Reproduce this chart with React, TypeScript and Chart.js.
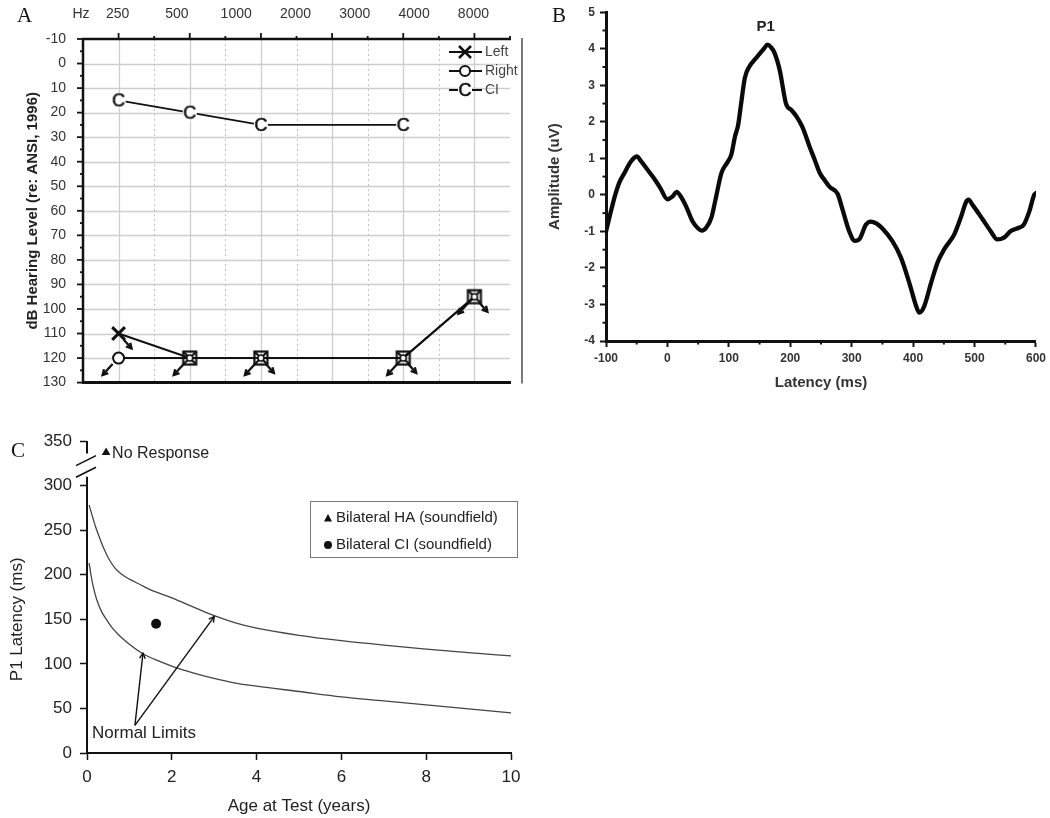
import React, { useEffect, useRef } from 'react';
import { Chart, registerables } from 'chart.js';
Chart.register(...registerables);

const FONT = '"Liberation Sans", Arial, Helvetica, sans-serif';
const SERIF = '"Liberation Serif", "Times New Roman", serif';

// ---------- Panel A: audiogram ----------
const freqLabels = ['250', '500', '1000', '2000', '3000', '4000', '8000'];
const ciFreqPos = [0, 1, 2, 4];
const ciThresholds = [15, 20, 25, 25];
const earFreqPos = [0, 1, 2, 4, 5];
const leftThresholds = [110, 120, 120, 120, 95];
const rightThresholds = [120, 120, 120, 120, 95];
const leftNoResponse = [true, false, true, true, true];
const rightNoResponse = [true, true, true, true, true];
const audioLegend = ['Left', 'Right', 'CI'];

// ---------- Panel B: waveform ----------
const latencyMs = [-100, -92, -85, -78, -70, -60, -50, -42, -33, -24, -12, 0, 8, 15, 22, 30, 41, 50, 56, 63, 72, 78, 88, 98, 104, 110, 115, 120, 126, 134, 142, 150, 157, 163, 168, 174, 183, 193, 202, 210, 220, 231, 240, 248, 256, 264, 277, 285, 296, 305, 313, 323, 331, 340, 350, 366, 380, 394, 405, 410, 418, 429, 440, 451, 467, 478, 486, 490, 497, 512, 526, 537, 548, 559, 572, 580, 589, 597, 600];
const amplitudeUv = [-1.0, -0.45, 0.0, 0.35, 0.6, 0.9, 1.05, 0.9, 0.7, 0.5, 0.2, -0.12, -0.05, 0.08, -0.05, -0.3, -0.73, -0.92, -0.98, -0.9, -0.6, -0.15, 0.6, 0.9, 1.1, 1.6, 1.9, 2.5, 3.2, 3.53, 3.7, 3.86, 4.0, 4.11, 4.05, 3.9, 3.4, 2.5, 2.32, 2.15, 1.85, 1.34, 0.95, 0.6, 0.4, 0.22, 0.03, -0.4, -1.0, -1.26, -1.2, -0.82, -0.73, -0.78, -0.92, -1.26, -1.71, -2.42, -3.05, -3.22, -3.05, -2.42, -1.84, -1.48, -1.08, -0.6, -0.2, -0.13, -0.28, -0.64, -0.99, -1.22, -1.17, -0.99, -0.9, -0.82, -0.46, 0.0, 0.05];
const peakLabel = 'P1';

// ---------- Panel C: P1 latency vs age ----------
const upperAge = [0.05, 0.1, 0.2, 0.3, 0.4, 0.5, 0.65, 0.8, 1.0, 1.25, 1.5, 2.0, 2.5, 3.0, 3.5, 4.0, 5.0, 6.0, 7.0, 8.0, 9.0, 10.0];
const upperLatency = [278, 270, 254, 241, 229, 219, 208, 201, 195, 189, 183, 174, 164, 154, 146, 140, 132, 126, 121, 116.5, 112.5, 109];
const lowerAge = [0.05, 0.1, 0.15, 0.23, 0.35, 0.47, 0.6, 0.78, 1.0, 1.33, 1.7, 2.03, 2.5, 2.97, 3.5, 4.0, 5.0, 6.0, 7.0, 8.0, 9.0, 10.0];
const lowerLatency = [213, 198, 186, 172, 158, 149, 140, 131, 122, 111, 103, 97, 90, 84, 78.5, 75, 69, 63, 58.5, 54, 49.5, 45];
const haAge = [0.45];
const haLatency = [337];
const ciAge = [1.63];
const ciLatency = [145];
const haLabel = 'Bilateral HA (soundfield)';
const ciLabel = 'Bilateral CI (soundfield)';
const noResponseText = 'No Response';
const normalLimitsText = 'Normal Limits';
const normalLimitsAnchor = { x: 0.12, y: 22 };
const normalArrowFrom = { x: 1.13, y: 31 };
const normalArrowTips = [{ x: 1.32, y: 112 }, { x: 3.0, y: 153 }];

function makeCanvas(w: number, h: number, draw: (ctx: CanvasRenderingContext2D) => void) {
  const c = document.createElement('canvas');
  c.width = w;
  c.height = h;
  draw(c.getContext('2d')!);
  return c;
}

function line(ctx: CanvasRenderingContext2D, x1: number, y1: number, x2: number, y2: number) {
  ctx.beginPath();
  ctx.moveTo(x1, y1);
  ctx.lineTo(x2, y2);
  ctx.stroke();
}

function arrow(ctx: CanvasRenderingContext2D, x1: number, y1: number, x2: number, y2: number, head: number) {
  line(ctx, x1, y1, x2, y2);
  const a = Math.atan2(y2 - y1, x2 - x1);
  ctx.beginPath();
  ctx.moveTo(x2 - head * Math.cos(a - 0.5), y2 - head * Math.sin(a - 0.5));
  ctx.lineTo(x2, y2);
  ctx.lineTo(x2 - head * Math.cos(a + 0.5), y2 - head * Math.sin(a + 0.5));
  ctx.stroke();
}

const cSymbol = makeCanvas(20, 20, (ctx) => {
  ctx.fillStyle = '#fff';
  ctx.fillRect(3, 2, 14, 16);
  ctx.fillStyle = '#111';
  ctx.strokeStyle = '#111';
  ctx.lineWidth = 0.5;
  ctx.font = `18px ${FONT}`;
  ctx.textAlign = 'center';
  ctx.textBaseline = 'middle';
  ctx.fillText('C', 10, 11);
  ctx.strokeText('C', 10, 11);
});

const boxSymbol = makeCanvas(18, 18, (ctx) => {
  ctx.strokeStyle = '#111';
  ctx.lineWidth = 2.2;
  ctx.strokeRect(2.5, 2.5, 13, 13);
  line(ctx, 2.5, 2.5, 15.5, 15.5);
  line(ctx, 15.5, 2.5, 2.5, 15.5);
  ctx.beginPath();
  ctx.arc(9, 9, 3, 0, Math.PI * 2);
  ctx.fillStyle = '#fff';
  ctx.fill();
  ctx.lineWidth = 1.6;
  ctx.stroke();
});

function ChartBox({ left, top, width, height, make }: { left: number; top: number; width: number; height: number; make: () => any }) {
  const ref = useRef<HTMLCanvasElement>(null);
  useEffect(() => {
    const chart = new Chart(ref.current!, make());
    return () => chart.destroy();
  }, []);
  return <canvas ref={ref} width={width} height={height} style={{ position: 'absolute', left, top, width, height }} />;
}

// ---------------- Panel A ----------------
function makeA() {
  const plugin = {
    id: 'panelA',
    beforeDatasetsDraw(chart: any) {
      const { ctx, chartArea: a, scales } = chart;
      const x = scales.x, y = scales.y;
      ctx.save();
      ctx.strokeStyle = '#cdcdcd';
      ctx.lineWidth = 1.3;
      for (let v = 0; v <= 120; v += 10) {
        const py = Math.round(y.getPixelForValue(v)) + 0.5;
        line(ctx, a.left, py, a.right, py);
      }
      for (let i = 0; i <= 5; i++) {
        const px = Math.round(x.getPixelForValue(i)) + 0.5;
        line(ctx, px, a.top, px, a.bottom);
      }
      ctx.strokeStyle = '#c4c4c4';
      ctx.lineWidth = 1;
      ctx.setLineDash([2, 3]);
      for (let i = 0; i < 5; i++) {
        const px = Math.round(x.getPixelForValue(i + 0.5)) + 0.5;
        line(ctx, px, a.top, px, a.bottom);
      }
      ctx.setLineDash([]);
      ctx.restore();
    },
    afterDatasetsDraw(chart: any) {
      const { ctx, chartArea: a, scales } = chart;
      const x = scales.x, y = scales.y;
      ctx.save();
      // no-response arrows
      ctx.strokeStyle = '#111';
      ctx.lineWidth = 2.3;
      earFreqPos.forEach((f, i) => {
        if (leftNoResponse[i]) {
          const px = x.getPixelForValue(f), py = y.getPixelForValue(leftThresholds[i]);
          arrow(ctx, px + 5, py + 6, px + 13, py + 15, 6);
        }
        if (rightNoResponse[i]) {
          const px = x.getPixelForValue(f), py = y.getPixelForValue(rightThresholds[i]);
          arrow(ctx, px - 6, py + 6, px - 16, py + 17, 6);
        }
      });
      // axes
      ctx.strokeStyle = '#111';
      ctx.lineWidth = 2.5;
      line(ctx, a.left - 1, a.top, a.right + 1, a.top);
      line(ctx, a.left, a.top - 1, a.left, a.bottom + 1);
      ctx.lineWidth = 3;
      line(ctx, a.left - 1, a.bottom, a.right + 1, a.bottom);
      ctx.lineWidth = 1.8;
      for (let i = 0; i <= 5; i++) {
        const px = x.getPixelForValue(i);
        line(ctx, px, a.top, px, a.top - 6);
      }
      for (let i = 0; i <= 5; i++) {
        const px = x.getPixelForValue(i + 0.5);
        line(ctx, px, a.top, px, a.top - 3);
      }
      for (let v = -10; v <= 130; v += 5) {
        const py = y.getPixelForValue(v);
        line(ctx, a.left, py, a.left - (v % 10 === 0 ? 6 : 3), py);
      }
      // top frequency labels
      ctx.fillStyle = '#333';
      ctx.font = `14px ${FONT}`;
      ctx.textAlign = 'center';
      ctx.textBaseline = 'middle';
      ctx.fillText('Hz', a.left - 2, 14);
      freqLabels.forEach((lab, i) => {
        ctx.fillText(lab, x.getPixelForValue((i * 5) / (freqLabels.length - 1)) - 1, 14);
      });
      // legend
      const ly = [52, 71, 90];
      audioLegend.forEach((lab, i) => {
        const yy = ly[i];
        ctx.strokeStyle = '#111';
        ctx.lineWidth = 2;
        line(ctx, 449, yy, 482, yy);
        if (i === 0) {
          ctx.lineWidth = 2.5;
          line(ctx, 459, yy - 6, 471, yy + 6);
          line(ctx, 471, yy - 6, 459, yy + 6);
        } else if (i === 1) {
          ctx.beginPath();
          ctx.arc(465, yy, 5, 0, Math.PI * 2);
          ctx.fillStyle = '#fff';
          ctx.fill();
          ctx.lineWidth = 2;
          ctx.stroke();
        } else {
          ctx.drawImage(cSymbol, 465 - 10, yy - 10);
        }
        ctx.fillStyle = '#444';
        ctx.font = `14px ${FONT}`;
        ctx.textAlign = 'left';
        ctx.fillText(lab, 485, yy);
      });
      // right border line
      ctx.strokeStyle = '#7a7a7a';
      ctx.lineWidth = 2;
      line(ctx, 522, a.top - 1, 522, a.bottom + 1);
      // panel letter
      ctx.fillStyle = '#111';
      ctx.font = `21px ${SERIF}`;
      ctx.textAlign = 'left';
      ctx.textBaseline = 'alphabetic';
      ctx.fillText('A', 17, 22);
      ctx.restore();
    },
  };
  return {
    type: 'line',
    data: {
      datasets: [
        {
          label: 'CI',
          data: ciFreqPos.map((f, i) => ({ x: f, y: ciThresholds[i] })),
          borderColor: '#111',
          borderWidth: 1.6,
          pointStyle: cSymbol,
          pointRadius: 9,
          showLine: true,
        },
        {
          label: 'Left',
          data: earFreqPos.map((f, i) => ({ x: f, y: leftThresholds[i] })),
          borderColor: '#111',
          borderWidth: 2,
          pointStyle: earFreqPos.map((_, i) => (i === 0 ? 'crossRot' : boxSymbol)),
          pointRadius: 9,
          pointBorderWidth: 3,
          pointBorderColor: '#111',
          showLine: true,
        },
        {
          label: 'Right',
          data: earFreqPos.map((f, i) => ({ x: f, y: rightThresholds[i] })),
          borderColor: '#111',
          borderWidth: 2,
          pointStyle: 'circle',
          pointRadius: earFreqPos.map((_, i) => (i === 0 ? 5.5 : 0)),
          pointBackgroundColor: '#fff',
          pointBorderColor: '#111',
          pointBorderWidth: 2,
          showLine: true,
        },
      ],
    },
    options: {
      responsive: false,
      animation: false,
      devicePixelRatio: 1,
      clip: false,
      layout: { padding: { top: 39, right: 20, bottom: 15, left: 0 } },
      plugins: { legend: { display: false }, tooltip: { enabled: false } },
      scales: {
        x: { type: 'linear', min: -0.5, max: 5.5, display: false },
        y: {
          type: 'linear',
          reverse: true,
          min: -10,
          max: 130,
          afterFit: (s: any) => { s.width = 83; },
          ticks: { stepSize: 10, color: '#333', font: { family: FONT, size: 14 }, padding: 9 },
          grid: { display: false },
          border: { display: false },
          title: {
            display: true,
            text: 'dB Hearing Level (re: ANSI, 1996)',
            color: '#222',
            font: { family: FONT, size: 15, weight: 'bold' },
            padding: { top: 24, bottom: 0 },
          },
        },
      },
    },
    plugins: [plugin],
  };
}

// ---------------- Panel B ----------------
function makeB() {
  const plugin = {
    id: 'panelB',
    afterDatasetsDraw(chart: any) {
      const { ctx, chartArea: a, scales } = chart;
      const x = scales.x, y = scales.y;
      ctx.save();
      ctx.strokeStyle = '#111';
      ctx.lineWidth = 2;
      for (let v = -50; v < 600; v += 100) {
        const px = x.getPixelForValue(v);
        line(ctx, px, a.bottom, px, a.bottom + 3.5);
      }
      for (let v = -3.5; v < 5; v += 1) {
        const py = y.getPixelForValue(v);
        line(ctx, a.left, py, a.left - 3.5, py);
      }
      // peak label
      let mi = 0;
      amplitudeUv.forEach((v, i) => { if (v > amplitudeUv[mi]) mi = i; });
      ctx.fillStyle = '#222';
      ctx.font = `bold 15px ${FONT}`;
      ctx.textAlign = 'center';
      ctx.textBaseline = 'middle';
      ctx.fillText(peakLabel, x.getPixelForValue(latencyMs[mi]) - 2, y.getPixelForValue(amplitudeUv[mi]) - 18);
      ctx.fillStyle = '#111';
      ctx.font = `21px ${SERIF}`;
      ctx.textAlign = 'left';
      ctx.textBaseline = 'alphabetic';
      ctx.fillText('B', 12, 22);
      ctx.restore();
    },
  };
  const tickFont = { family: FONT, size: 12, weight: 'bold' };
  return {
    type: 'line',
    data: {
      datasets: [
        {
          label: 'Amplitude',
          data: latencyMs.map((t, i) => ({ x: t, y: amplitudeUv[i] })),
          borderColor: '#0a0a0a',
          borderWidth: 4.3,
          pointRadius: 0,
          cubicInterpolationMode: 'monotone',
          borderCapStyle: 'round',
          borderJoinStyle: 'round',
        },
      ],
    },
    options: {
      responsive: false,
      animation: false,
      devicePixelRatio: 1,
      layout: { padding: { top: 7, right: 13, bottom: 0, left: 0 } },
      plugins: { legend: { display: false }, tooltip: { enabled: false } },
      scales: {
        x: {
          type: 'linear',
          min: -100,
          max: 600,
          afterFit: (s: any) => { s.height = 59; },
          ticks: { stepSize: 100, color: '#333', font: tickFont, padding: 4 },
          grid: { drawOnChartArea: false, tickLength: 6, tickWidth: 2, tickColor: '#111' },
          border: { color: '#111', width: 3 },
          title: { display: true, text: 'Latency (ms)', color: '#333', font: { family: FONT, size: 15, weight: 'bold' }, padding: { top: 0, bottom: 8 } },
        },
        y: {
          type: 'linear',
          min: -4,
          max: 5,
          afterFit: (s: any) => { s.width = 66; },
          ticks: { stepSize: 1, color: '#333', font: tickFont, padding: 5 },
          grid: { drawOnChartArea: false, tickLength: 6, tickWidth: 2, tickColor: '#111' },
          border: { color: '#111', width: 3 },
          title: { display: true, text: 'Amplitude (uV)', color: '#333', font: { family: FONT, size: 15, weight: 'bold' }, padding: { top: 6, bottom: 0 } },
        },
      },
    },
    plugins: [plugin],
  };
}

// ---------------- Panel C ----------------
function makeC() {
  const plugin = {
    id: 'panelC',
    afterDatasetsDraw(chart: any) {
      const { ctx, chartArea: a, scales } = chart;
      const x = scales.x, y = scales.y;
      ctx.save();
      // y axis with break
      ctx.strokeStyle = '#111';
      ctx.lineWidth = 2;
      line(ctx, a.left, y.getPixelForValue(0) + 1, a.left, y.getPixelForValue(310));
      line(ctx, a.left, y.getPixelForValue(336), a.left, y.getPixelForValue(350));
      ctx.lineWidth = 1.6;
      [315, 328].forEach((v) => {
        const py = y.getPixelForValue(v);
        line(ctx, a.left - 11, py + 5, a.left + 9, py - 5);
      });
      // y title
      ctx.fillStyle = '#222';
      ctx.font = `17px ${FONT}`;
      ctx.textAlign = 'center';
      ctx.textBaseline = 'middle';
      ctx.save();
      ctx.translate(17, y.getPixelForValue(150));
      ctx.rotate(-Math.PI / 2);
      ctx.fillText('P1 Latency (ms)', 0, 0);
      ctx.restore();
      // No response label
      ctx.font = `16px ${FONT}`;
      ctx.textAlign = 'left';
      ctx.fillText(noResponseText, x.getPixelForValue(haAge[0]) + 6, y.getPixelForValue(haLatency[0]) + 1);
      // Normal limits
      ctx.font = `17px ${FONT}`;
      ctx.fillText(normalLimitsText, x.getPixelForValue(normalLimitsAnchor.x), y.getPixelForValue(normalLimitsAnchor.y));
      ctx.strokeStyle = '#111';
      ctx.lineWidth = 1.4;
      normalArrowTips.forEach((t) => {
        arrow(ctx, x.getPixelForValue(normalArrowFrom.x), y.getPixelForValue(normalArrowFrom.y), x.getPixelForValue(t.x), y.getPixelForValue(t.y), 6);
      });
      // legend box
      ctx.strokeStyle = '#777';
      ctx.lineWidth = 1;
      ctx.strokeRect(310.5, 81.5, 207, 56);
      ctx.fillStyle = '#111';
      ctx.beginPath();
      ctx.moveTo(328, 94);
      ctx.lineTo(332, 101.5);
      ctx.lineTo(324, 101.5);
      ctx.closePath();
      ctx.fill();
      ctx.beginPath();
      ctx.arc(328, 125, 4, 0, Math.PI * 2);
      ctx.fill();
      ctx.fillStyle = '#222';
      ctx.font = `15px ${FONT}`;
      ctx.fillText(haLabel, 336, 98);
      ctx.fillText(ciLabel, 336, 125);
      // letter
      ctx.fillStyle = '#111';
      ctx.font = `21px ${SERIF}`;
      ctx.textBaseline = 'alphabetic';
      ctx.fillText('C', 11, 37);
      ctx.restore();
    },
  };
  const tickFont = { family: FONT, size: 17 };
  return {
    type: 'line',
    data: {
      datasets: [
        { label: haLabel, data: haAge.map((v, i) => ({ x: v, y: haLatency[i] })), showLine: false, pointStyle: 'triangle', pointRadius: 5, pointBackgroundColor: '#111', pointBorderColor: '#111', pointBorderWidth: 0 },
        { label: ciLabel, data: ciAge.map((v, i) => ({ x: v, y: ciLatency[i] })), showLine: false, pointStyle: 'circle', pointRadius: 5, pointBackgroundColor: '#111', pointBorderColor: '#111', pointBorderWidth: 0 },
        { label: 'Upper limit', data: upperAge.map((v, i) => ({ x: v, y: upperLatency[i] })), borderColor: '#444', borderWidth: 1.3, pointRadius: 0, cubicInterpolationMode: 'monotone' },
        { label: 'Lower limit', data: lowerAge.map((v, i) => ({ x: v, y: lowerLatency[i] })), borderColor: '#444', borderWidth: 1.3, pointRadius: 0, cubicInterpolationMode: 'monotone' },
      ],
    },
    options: {
      responsive: false,
      animation: false,
      devicePixelRatio: 1,
      clip: false,
      layout: { padding: { top: 21, right: 19, bottom: 0, left: 0 } },
      plugins: { legend: { display: false }, tooltip: { enabled: false } },
      scales: {
        x: {
          type: 'linear',
          min: 0,
          max: 10,
          afterFit: (s: any) => { s.height = 65; },
          ticks: { stepSize: 2, color: '#222', font: tickFont, padding: 7 },
          grid: { drawOnChartArea: false, tickLength: 7, tickWidth: 1.5, tickColor: '#111' },
          border: { color: '#111', width: 2 },
          title: { display: true, text: 'Age at Test (years)', color: '#222', font: { family: FONT, size: 17 }, padding: { top: 0, bottom: 1 } },
        },
        y: {
          type: 'linear',
          min: 0,
          max: 350,
          afterFit: (s: any) => { s.width = 87; },
          ticks: { stepSize: 50, color: '#222', font: tickFont, padding: 8 },
          grid: { drawOnChartArea: false, tickLength: 7, tickWidth: 1.5, tickColor: '#111' },
          border: { display: false },
        },
      },
    },
    plugins: [plugin],
  };
}

export default function App() {
  return (
    <div style={{ position: 'absolute', left: 0, top: 0, width: 1050, height: 818, background: '#fff', overflow: 'hidden' }}>
      <ChartBox left={0} top={0} width={530} height={400} make={makeA} />
      <ChartBox left={540} top={0} width={510} height={400} make={makeB} />
      <ChartBox left={0} top={420} width={530} height={398} make={makeC} />
    </div>
  );
}
